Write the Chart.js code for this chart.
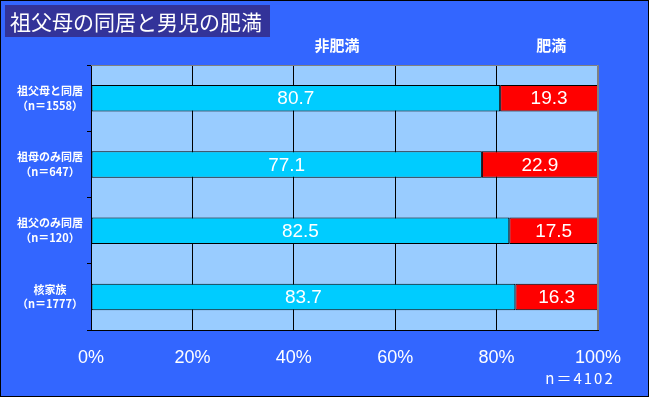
<!DOCTYPE html>
<html>
<head>
<meta charset="utf-8">
<script src="https://cdn.jsdelivr.net/npm/chart.js@4/dist/chart.umd.min.js"></script>
<style>
  body { margin: 0; background: #3366ff; }
</style>
</head>
<body>
<canvas id="chart" width="649" height="397"></canvas>
<script>
const categories = [
  ["祖父母と同居", "（n＝1558）"],
  ["祖母のみ同居", "（n＝647）"],
  ["祖父のみ同居", "（n＝120）"],
  ["核家族", "（n＝1777）"]
]
const notObese = [80.7, 77.1, 82.5, 83.7]
const obese = [19.3, 22.9, 17.5, 16.3]
const seriesNames = ["非肥満", "肥満"]
const xTicks = [0, 20, 40, 60, 80, 100]
const titleText = "祖父母の同居と男児の肥満"
const totalText = "n＝4102"

const jp = '"Noto Sans CJK JP", sans-serif'
const num = '"Liberation Sans", Arial, sans-serif'

const decor = {
  id: 'decor',
  beforeDraw(chart) {
    const ctx = chart.ctx
    const a = chart.chartArea
    ctx.save()
    ctx.fillStyle = '#3366ff'
    ctx.fillRect(0, 0, chart.width, chart.height)
    ctx.fillStyle = '#99ccff'
    ctx.fillRect(a.left, a.top, a.right - a.left, a.bottom - a.top)
    ctx.restore()
  },
  afterDatasetsDraw(chart) {
    const ctx = chart.ctx
    const a = chart.chartArea
    ctx.save()
    // grey top/right frame
    ctx.strokeStyle = '#808080'
    ctx.lineWidth = 1
    ctx.beginPath()
    ctx.moveTo(a.left, a.top + 0.5)
    ctx.lineTo(a.right - 0.5, a.top + 0.5)
    ctx.lineTo(a.right - 0.5, a.bottom)
    ctx.stroke()

    // value labels
    ctx.fillStyle = '#ffffff'
    ctx.font = '19px ' + num
    ctx.textAlign = 'center'
    ctx.textBaseline = 'middle'
    chart.data.datasets.forEach((ds, i) => {
      chart.getDatasetMeta(i).data.forEach((bar, j) => {
        ctx.fillText(ds.data[j].toFixed(1), (bar.x + bar.base) / 2, bar.y + 1)
      })
    })

    // series names above the plot
    const xs = chart.scales.x
    ctx.font = 'bold 15px ' + jp
    ctx.fillText(seriesNames[0], xs.getPixelForValue(48.5), 45)
    ctx.fillText(seriesNames[1], xs.getPixelForValue(90.8), 45)

    // total n
    ctx.font = '15px ' + jp
    ctx.letterSpacing = '2px'
    ctx.fillText(totalText, 580, 378)
    ctx.letterSpacing = '0px'

    // title box
    ctx.fillStyle = '#333399'
    ctx.fillRect(5, 5, 265, 32)
    ctx.fillStyle = '#ffffff'
    ctx.font = '21px ' + jp
    ctx.textAlign = 'left'
    ctx.fillText(titleText, 10, 22)

    // outer border
    ctx.strokeStyle = '#000000'
    ctx.strokeRect(0.5, 0.5, chart.width - 1, chart.height - 1)
    ctx.restore()
  }
}

new Chart(document.getElementById('chart'), {
  type: 'bar',
  data: {
    labels: categories,
    datasets: [{
      label: seriesNames[0],
      data: notObese,
      backgroundColor: '#00ccff',
      borderColor: '#000000',
      borderWidth: 1,
      borderSkipped: false
    }, {
      label: seriesNames[1],
      data: obese,
      backgroundColor: '#ff0000',
      borderColor: '#000000',
      borderWidth: 1,
      borderSkipped: false
    }]
  },
  options: {
    indexAxis: 'y',
    responsive: false,
    animation: false,
    events: [],
    layout: { padding: { left: 0, top: 65, right: 51, bottom: 0 } },
    datasets: { bar: { barPercentage: 0.4, categoryPercentage: 1 } },
    plugins: { legend: { display: false }, tooltip: { enabled: false } },
    scales: {
      x: {
        stacked: true,
        min: 0,
        max: 100,
        afterFit(scale) { scale.height = 67 },
        afterBuildTicks(scale) { scale.ticks = xTicks.map(v => ({ value: v })) },
        border: { color: '#000000', width: 1 },
        grid: {
          drawTicks: false,
          color: ctx => ctx.tick && ctx.tick.value === 100 ? '#808080' : '#000000'
        },
        ticks: {
          color: '#ffffff',
          padding: 17,
          font: { family: num, size: 18 },
          callback: v => v + '%'
        }
      },
      y: {
        stacked: true,
        afterFit(scale) { scale.width = 91 },
        border: { color: '#000000', width: 1 },
        grid: {
          drawOnChartArea: false,
          drawTicks: true,
          tickLength: 4,
          color: '#000000'
        },
        ticks: {
          color: '#ffffff',
          crossAlign: 'center',
          padding: 4,
          font: { family: jp, size: 11, weight: 'bold', lineHeight: 1.35 }
        }
      }
    }
  },
  plugins: [decor]
})
</script>
</body>
</html>
